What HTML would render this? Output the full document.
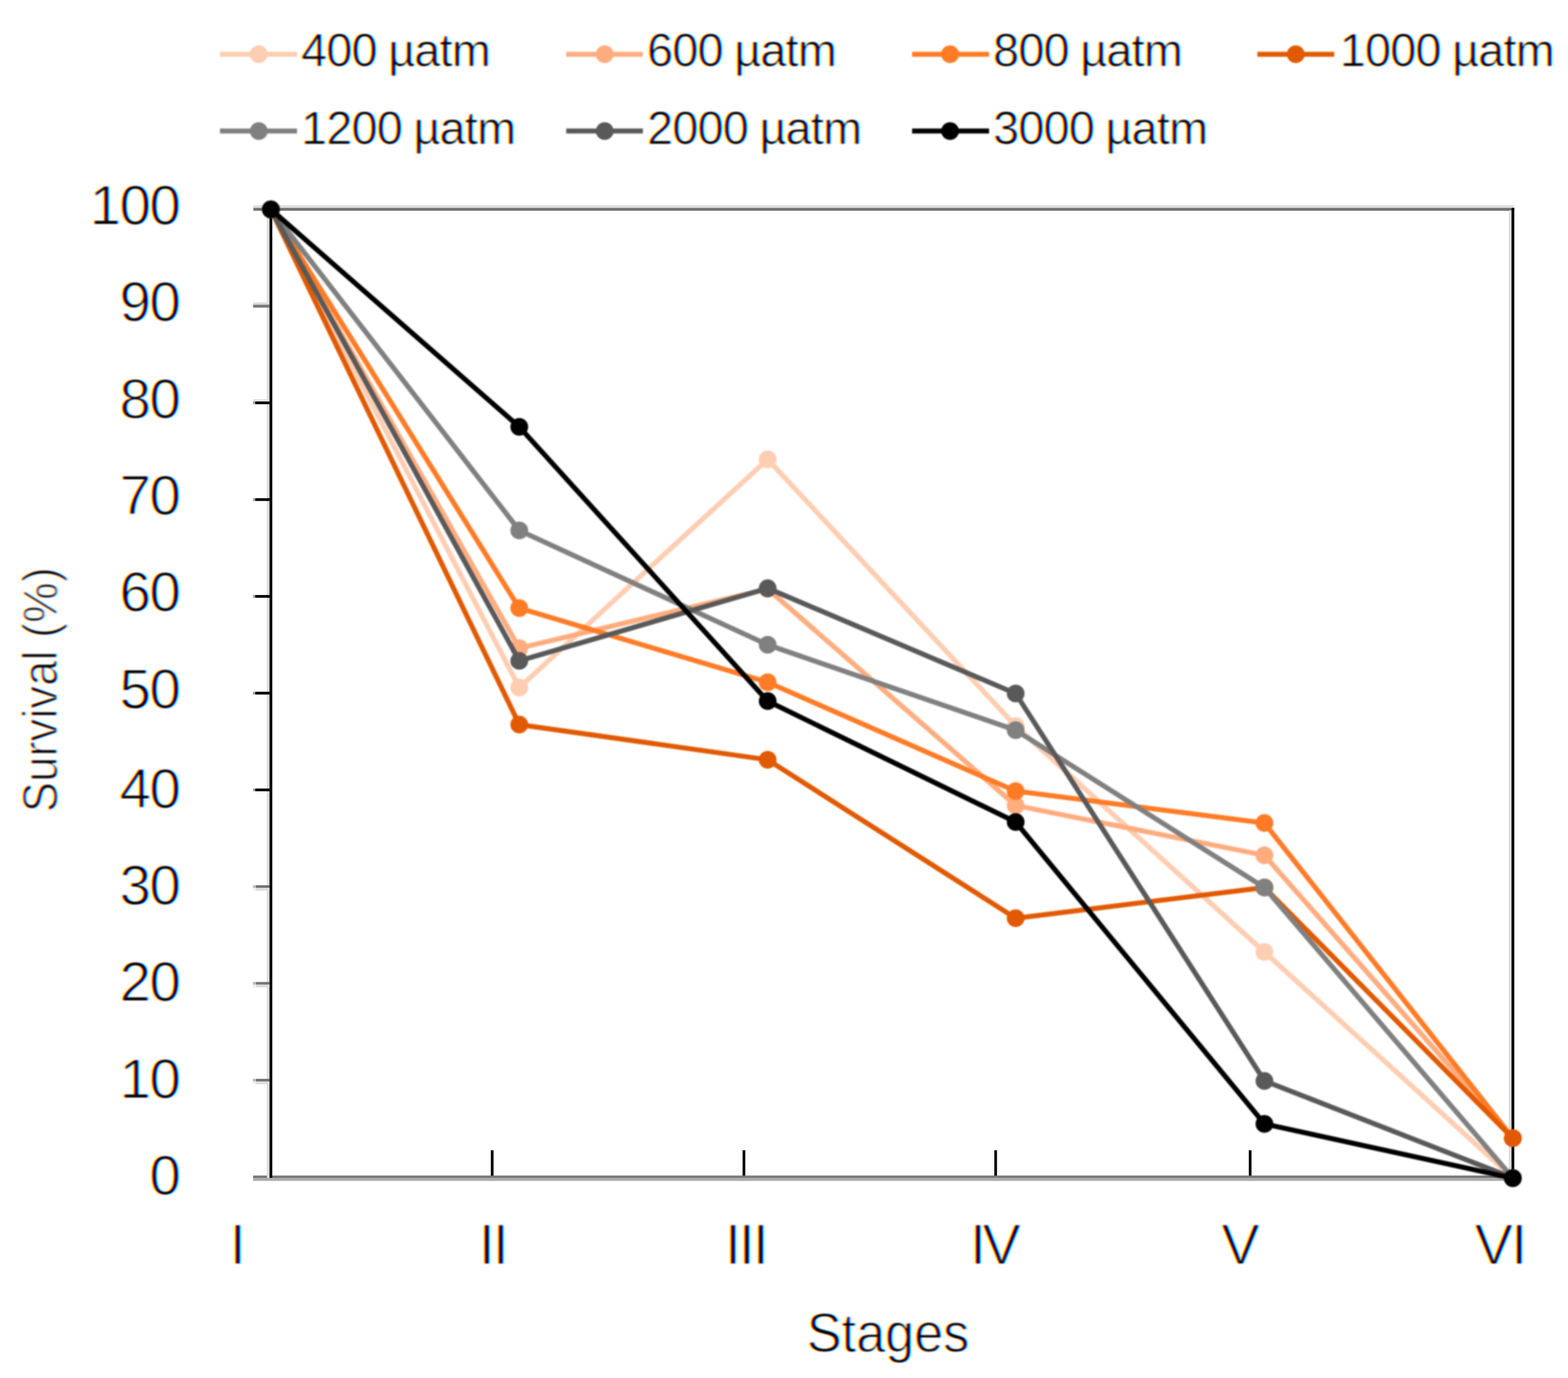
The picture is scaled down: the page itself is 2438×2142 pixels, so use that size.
<!DOCTYPE html>
<html lang="en"><head><meta charset="utf-8"><title>Survival by stage</title>
<style>
html,body{margin:0;padding:0;background:#fff;}
body{width:2438px;height:2142px;overflow:hidden;}
svg{display:block;}
text{font-family:"Liberation Sans",sans-serif;fill:#000;font-kerning:none;}
.tick{font-size:87.5px;letter-spacing:-2.25px;stroke:#fff;stroke-width:1.8px;}
.rom{font-size:89.5px;stroke:#fff;stroke-width:2px;}
.leg{font-size:72.4px;letter-spacing:-1px;word-spacing:-1.5px;stroke:#fff;stroke-width:1.2px;}
.ttl{font-size:86px;stroke:#fff;stroke-width:1.8px;}
.yttl{font-size:76px;stroke:#fff;stroke-width:2px;}
</style></head><body>
<svg width="2438" height="2142" viewBox="0 0 2438 2142" role="img" aria-label="Survival (%) by stage for seven pCO2 treatments">
<defs>
<filter id="soft" x="0" y="0" width="2438" height="2142" filterUnits="userSpaceOnUse" color-interpolation-filters="sRGB"><feGaussianBlur stdDeviation="1.00"/></filter>
<filter id="lcd" x="0" y="0" width="2438" height="2142" filterUnits="userSpaceOnUse" color-interpolation-filters="sRGB">
<feColorMatrix in="SourceGraphic" type="matrix" values="0 0 0 0 0  0 0 0 0 1  0 0 0 0 1  -1 0 0 1 0" result="c0"/>
<feOffset in="c0" dx="2.20" dy="0" result="c"/>
<feColorMatrix in="SourceGraphic" type="matrix" values="0 0 0 0 1  0 0 0 0 0  0 0 0 0 1  -1 0 0 1 0" result="m"/>
<feColorMatrix in="SourceGraphic" type="matrix" values="0 0 0 0 1  0 0 0 0 1  0 0 0 0 0  -1 0 0 1 0" result="y0"/>
<feOffset in="y0" dx="-2.20" dy="0" result="y"/>
<feBlend in="c" in2="m" mode="multiply" result="cm"/>
<feBlend in="cm" in2="y" mode="multiply" result="cmy"/>
<feGaussianBlur in="cmy" stdDeviation="1.00"/>
</filter>
</defs>
<rect x="0" y="0" width="2438" height="2142" fill="#fff"/>
<g>
<rect x="394" y="319.2" width="1960.5" height="4" fill="#dddddd"/>
<rect x="394" y="323.2" width="1960.5" height="4.4" fill="#707070"/>
<rect x="393.5" y="1827.3" width="1961" height="4.2" fill="#777777"/>
<rect x="393.5" y="1831.5" width="1961" height="4.1" fill="#aaaaaa"/>
<rect x="415" y="327" width="4.1" height="1504" fill="#dadada"/>
<rect x="419.1" y="327" width="4.25" height="1504" fill="#000"/>
<rect x="2346.1" y="327" width="4.1" height="1504" fill="#dcdcdc"/>
<rect x="2350.2" y="323.2" width="4.25" height="1508" fill="#000"/>
<rect x="393.5" y="470.0" width="25.5" height="3.6" fill="#dddddd"/>
<rect x="393.5" y="473.6" width="25.5" height="4.6" fill="#7a7a7a"/>
<rect x="397" y="624.0" width="22" height="4.3" fill="#000"/>
<rect x="393.5" y="624.0" width="3.5" height="4.3" fill="#999"/>
<rect x="393.5" y="620.6" width="25.5" height="3.5" fill="#e0e0e0"/>
<rect x="397" y="774.4" width="22" height="4.3" fill="#000"/>
<rect x="393.5" y="774.4" width="3.5" height="4.3" fill="#999"/>
<rect x="397" y="924.9" width="22" height="4.3" fill="#000"/>
<rect x="393.5" y="924.9" width="3.5" height="4.3" fill="#999"/>
<rect x="397" y="1075.3" width="22" height="4.3" fill="#000"/>
<rect x="393.5" y="1075.3" width="3.5" height="4.3" fill="#999"/>
<rect x="397" y="1225.7" width="22" height="4.3" fill="#000"/>
<rect x="393.5" y="1225.7" width="3.5" height="4.3" fill="#999"/>
<rect x="397.8" y="1376.0" width="21.3" height="4.3" fill="#747474"/>
<rect x="393.4" y="1376.0" width="4.4" height="4.3" fill="#b8b8b8"/>
<rect x="397.8" y="1380.3" width="21.3" height="4.1" fill="#dcdcdc"/>
<rect x="393.4" y="1380.3" width="4.4" height="4.1" fill="#efefef"/>
<rect x="397.8" y="1526.4" width="21.3" height="4.3" fill="#747474"/>
<rect x="393.4" y="1526.4" width="4.4" height="4.3" fill="#b8b8b8"/>
<rect x="397.8" y="1530.7" width="21.3" height="4.1" fill="#dcdcdc"/>
<rect x="393.4" y="1530.7" width="4.4" height="4.1" fill="#efefef"/>
<rect x="397.8" y="1676.9" width="21.3" height="4.3" fill="#747474"/>
<rect x="393.4" y="1676.9" width="4.4" height="4.3" fill="#b8b8b8"/>
<rect x="397.8" y="1681.2" width="21.3" height="4.1" fill="#dcdcdc"/>
<rect x="393.4" y="1681.2" width="4.4" height="4.1" fill="#efefef"/>
<rect x="763.2" y="1788" width="4.2" height="39.5" fill="#000"/>
<rect x="1154.6" y="1788" width="4.2" height="39.5" fill="#000"/>
<rect x="1546.0" y="1788" width="4.2" height="39.5" fill="#000"/>
<rect x="1941.7" y="1788" width="4.2" height="39.5" fill="#000"/>
</g>
<g filter="url(#soft)">
<line x1="342.0" y1="84.3" x2="461.9" y2="84.3" stroke="#FFCDB2" stroke-width="7.80"/>
<circle cx="402.4" cy="84.3" r="13.8" fill="#FFCDB2"/>
<line x1="880.4" y1="84.3" x2="999.6" y2="84.3" stroke="#FFAD7F" stroke-width="7.80"/>
<circle cx="940.2" cy="84.3" r="13.8" fill="#FFAD7F"/>
<line x1="1418.2" y1="84.3" x2="1537.8" y2="84.3" stroke="#FF7B26" stroke-width="7.80"/>
<circle cx="1477.2" cy="84.3" r="13.8" fill="#FF7B26"/>
<line x1="1955.0" y1="84.3" x2="2074.6" y2="84.3" stroke="#E15A02" stroke-width="7.80"/>
<circle cx="2014.7" cy="84.3" r="13.8" fill="#E15A02"/>
<line x1="342.0" y1="203.7" x2="461.9" y2="203.7" stroke="#808080" stroke-width="7.80"/>
<circle cx="402.4" cy="203.7" r="13.8" fill="#808080"/>
<line x1="880.4" y1="203.7" x2="999.6" y2="203.7" stroke="#595959" stroke-width="7.80"/>
<circle cx="940.2" cy="203.7" r="13.8" fill="#595959"/>
<line x1="1418.2" y1="203.7" x2="1537.8" y2="203.7" stroke="#000000" stroke-width="7.80"/>
<circle cx="1477.2" cy="203.7" r="13.8" fill="#000000"/>
<g fill="#FFCDB2" stroke="none">
<polyline points="421.2,325.5 807.4,1068.8 1193.6,714.0 1579.2,1128.5 1966.0,1479.8 2352.2,1831.0" fill="none" stroke="#FFCDB2" stroke-width="7.80" stroke-linejoin="round" stroke-linecap="round"/>
<circle cx="421.2" cy="325.5" r="13.8"/>
<circle cx="807.4" cy="1068.8" r="13.8"/>
<circle cx="1193.6" cy="714.0" r="13.8"/>
<circle cx="1579.2" cy="1128.5" r="13.8"/>
<circle cx="1966.0" cy="1479.8" r="13.8"/>
<circle cx="2352.2" cy="1831.0" r="13.8"/>
</g>
<g fill="#FFAD7F" stroke="none">
<polyline points="421.2,325.5 807.4,1007.5 1193.6,915.5 1579.2,1252.0 1966.0,1329.5 2352.2,1769.2" fill="none" stroke="#FFAD7F" stroke-width="7.80" stroke-linejoin="round" stroke-linecap="round"/>
<circle cx="421.2" cy="325.5" r="13.8"/>
<circle cx="807.4" cy="1007.5" r="13.8"/>
<circle cx="1193.6" cy="915.5" r="13.8"/>
<circle cx="1579.2" cy="1252.0" r="13.8"/>
<circle cx="1966.0" cy="1329.5" r="13.8"/>
<circle cx="2352.2" cy="1769.2" r="13.8"/>
</g>
<g fill="#FF7B26" stroke="none">
<polyline points="421.2,325.5 807.4,945.3 1193.6,1060.5 1579.2,1229.7 1966.0,1279.3 2352.2,1769.2" fill="none" stroke="#FF7B26" stroke-width="7.80" stroke-linejoin="round" stroke-linecap="round"/>
<circle cx="421.2" cy="325.5" r="13.8"/>
<circle cx="807.4" cy="945.3" r="13.8"/>
<circle cx="1193.6" cy="1060.5" r="13.8"/>
<circle cx="1579.2" cy="1229.7" r="13.8"/>
<circle cx="1966.0" cy="1279.3" r="13.8"/>
<circle cx="2352.2" cy="1769.2" r="13.8"/>
</g>
<g fill="#E15A02" stroke="none">
<polyline points="421.2,325.5 807.4,1126.3 1193.6,1181.0 1579.2,1427.3 1966.0,1379.6 2352.2,1769.2" fill="none" stroke="#E15A02" stroke-width="7.80" stroke-linejoin="round" stroke-linecap="round"/>
<circle cx="421.2" cy="325.5" r="13.8"/>
<circle cx="807.4" cy="1126.3" r="13.8"/>
<circle cx="1193.6" cy="1181.0" r="13.8"/>
<circle cx="1579.2" cy="1427.3" r="13.8"/>
<circle cx="1966.0" cy="1379.6" r="13.8"/>
<circle cx="2352.2" cy="1769.2" r="13.8"/>
</g>
<g fill="#808080" stroke="none">
<polyline points="421.2,325.5 807.4,824.5 1193.6,1002.3 1579.2,1135.0 1966.0,1379.6 2352.2,1831.0" fill="none" stroke="#808080" stroke-width="7.80" stroke-linejoin="round" stroke-linecap="round"/>
<circle cx="421.2" cy="325.5" r="13.8"/>
<circle cx="807.4" cy="824.5" r="13.8"/>
<circle cx="1193.6" cy="1002.3" r="13.8"/>
<circle cx="1579.2" cy="1135.0" r="13.8"/>
<circle cx="1966.0" cy="1379.6" r="13.8"/>
<circle cx="2352.2" cy="1831.0" r="13.8"/>
</g>
<g fill="#595959" stroke="none">
<polyline points="421.2,325.5 807.4,1027.2 1193.6,914.4 1579.2,1078.0 1966.0,1680.2 2352.2,1831.0" fill="none" stroke="#595959" stroke-width="7.80" stroke-linejoin="round" stroke-linecap="round"/>
<circle cx="421.2" cy="325.5" r="13.8"/>
<circle cx="807.4" cy="1027.2" r="13.8"/>
<circle cx="1193.6" cy="914.4" r="13.8"/>
<circle cx="1579.2" cy="1078.0" r="13.8"/>
<circle cx="1966.0" cy="1680.2" r="13.8"/>
<circle cx="2352.2" cy="1831.0" r="13.8"/>
</g>
<g fill="#000000" stroke="none">
<polyline points="421.2,325.5 807.4,663.5 1193.6,1089.8 1579.2,1277.8 1966.0,1747.0 2352.2,1831.5" fill="none" stroke="#000000" stroke-width="7.80" stroke-linejoin="round" stroke-linecap="round"/>
<circle cx="421.2" cy="325.5" r="13.8"/>
<circle cx="807.4" cy="663.5" r="13.8"/>
<circle cx="1193.6" cy="1089.8" r="13.8"/>
<circle cx="1579.2" cy="1277.8" r="13.8"/>
<circle cx="1966.0" cy="1747.0" r="13.8"/>
<circle cx="2352.2" cy="1831.5" r="13.8"/>
</g>
</g>
<g filter="url(#lcd)">
<text class="leg" x="468.0" y="103.2">400 µatm</text>
<text class="leg" x="1006.0" y="103.2">600 µatm</text>
<text class="leg" x="1544.0" y="103.2">800 µatm</text>
<text class="leg" x="2083.0" y="103.2">1000 µatm</text>
<text class="leg" x="468.0" y="223.5">1200 µatm</text>
<text class="leg" x="1006.0" y="223.5">2000 µatm</text>
<text class="leg" x="1544.0" y="223.5">3000 µatm</text>
<text class="tick" x="278.6" y="1857.3" text-anchor="end">0</text>
<text class="tick" x="278.6" y="1706.9" text-anchor="end">10</text>
<text class="tick" x="278.6" y="1556.4" text-anchor="end">20</text>
<text class="tick" x="278.6" y="1406.0" text-anchor="end">30</text>
<text class="tick" x="278.6" y="1255.6" text-anchor="end">40</text>
<text class="tick" x="278.6" y="1100.8" text-anchor="end">50</text>
<text class="tick" x="278.6" y="950.4" text-anchor="end">60</text>
<text class="tick" x="278.6" y="800.0" text-anchor="end">70</text>
<text class="tick" x="278.6" y="649.6" text-anchor="end">80</text>
<text class="tick" x="278.6" y="499.1" text-anchor="end">90</text>
<text class="tick" x="278.6" y="348.7" text-anchor="end">100</text>
<text class="rom" x="356.9" y="1964.6">I</text>
<text class="rom" x="744.2 765.9" y="1964.6">II</text>
<text class="rom" x="1126.9 1148.5 1170.2" y="1964.6">III</text>
<text class="rom" x="1507.9 1527.3" y="1964.6">IV</text>
<text class="rom" x="1898.7" y="1964.6">V</text>
<text class="rom" x="2292.5 2349.5" y="1964.6">VI</text>
<text class="ttl" transform="translate(1254.2,2101.4) scale(0.944,1)">Stages</text>
<text class="yttl" transform="translate(88.1,1262.5) rotate(-90) scale(0.93,1)">Survival (%)</text>
</g>
</svg>
</body></html>
